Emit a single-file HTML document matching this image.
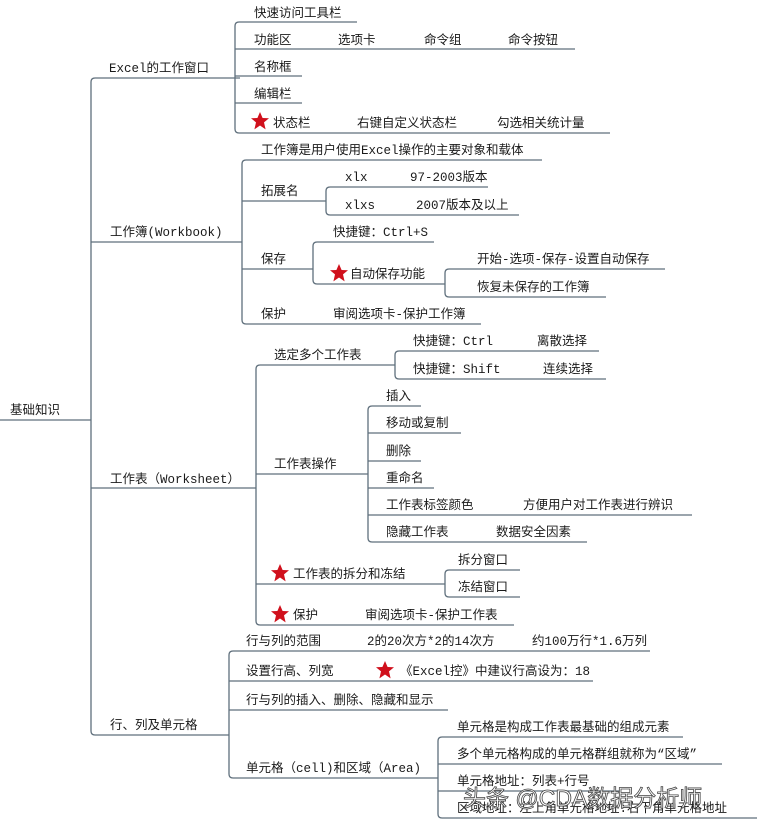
<!DOCTYPE html>
<html><head><meta charset="utf-8"><style>
html,body{margin:0;padding:0;background:#fff;width:762px;height:820px;overflow:hidden}
svg text{font-family:"Liberation Mono","Noto Sans CJK SC",sans-serif;font-size:12.5px;fill:#1a1a1a}
.l{stroke:#5f6f7c;stroke-width:1.3;fill:none}
.s{fill:#d0101c}
</style></head><body>
<svg width="762" height="820" viewBox="0 0 762 820" xmlns="http://www.w3.org/2000/svg">
<defs><polygon id="st" points="0,-9 2.6,-3 9,-2.8 4,1.4 5.6,8.4 0,4.5 -5.6,8.4 -4,1.4 -9,-2.8 -2.6,-3"/></defs>
<g class="l">
<path d="M0 420 H91"/>
<path d="M240 78 H95 Q91 78 91 82 V731 Q91 735 95 735 H229"/>
<path d="M91 242 H242"/><path d="M91 488 H256"/>
<path d="M357 22 H239 Q235 22 235 26 V129 Q235 133 239 133 H610"/>
<path d="M235 49 H575"/><path d="M235 76 H302"/><path d="M235 103 H302"/>
<path d="M542 160 H246 Q242 160 242 164 V320 Q242 324 246 324 H481"/>
<path d="M242 201 H326"/><path d="M242 269 H313"/>
<path d="M488 187 H330 Q326 187 326 191 V211 Q326 215 330 215 H519"/>
<path d="M434 242 H317 Q313 242 313 246 V280 Q313 284 317 284 H445"/>
<path d="M665 269 H449 Q445 269 445 273 V293 Q445 297 449 297 H606"/>
<path d="M395 365 H260 Q256 365 256 369 V621 Q256 625 260 625 H514"/>
<path d="M256 474 H368"/><path d="M256 584 H445"/>
<path d="M599 351 H399 Q395 351 395 355 V375 Q395 379 399 379 H606"/>
<path d="M421 406 H372 Q368 406 368 410 V538 Q368 542 372 542 H587"/>
<path d="M368 433 H461"/><path d="M368 461 H421"/><path d="M368 488 H434"/><path d="M368 515 H692"/>
<path d="M520 570 H449 Q445 570 445 574 V593 Q445 597 449 597 H520"/>
<path d="M650 651 H233 Q229 651 229 655 V774 Q229 778 233 778 H438"/>
<path d="M229 681 H593"/><path d="M229 710 H448"/>
<path d="M683 737 H442 Q438 737 438 741 V814 Q438 818 442 818 H757"/>
<path d="M438 764 H722"/><path d="M438 791 H620"/>
</g>
<g>
<text x="10" y="414">基础知识</text>
<text x="109" y="72">Excel的工作窗口</text>
<text x="254" y="17">快速访问工具栏</text>
<text x="254" y="44">功能区</text><text x="338" y="44">选项卡</text><text x="424" y="44">命令组</text><text x="508" y="44">命令按钮</text>
<text x="254" y="71">名称框</text><text x="254" y="98">编辑栏</text>
<use href="#st" class="s" x="260" y="121"/><text x="273" y="127">状态栏</text><text x="357" y="127">右键自定义状态栏</text><text x="497" y="127">勾选相关统计量</text>
<text x="110" y="236">工作簿(Workbook)</text>
<text x="261" y="154">工作簿是用户使用Excel操作的主要对象和载体</text>
<text x="261" y="195">拓展名</text>
<text x="345" y="181">xlx</text><text x="410" y="181">97-2003版本</text>
<text x="345" y="209">xlxs</text><text x="416" y="209">2007版本及以上</text>
<text x="261" y="263">保存</text>
<text x="333" y="236">快捷键：Ctrl+S</text>
<use href="#st" class="s" x="339" y="273"/><text x="350" y="278">自动保存功能</text>
<text x="477" y="263">开始-选项-保存-设置自动保存</text>
<text x="477" y="291">恢复未保存的工作簿</text>
<text x="261" y="318">保护</text><text x="333" y="318">审阅选项卡-保护工作簿</text>
<text x="110" y="483">工作表（Worksheet）</text>
<text x="274" y="359">选定多个工作表</text>
<text x="413" y="345">快捷键：Ctrl</text><text x="537" y="345">离散选择</text>
<text x="413" y="373">快捷键：Shift</text><text x="543" y="373">连续选择</text>
<text x="274" y="468">工作表操作</text>
<text x="386" y="400">插入</text><text x="386" y="427">移动或复制</text><text x="386" y="455">删除</text><text x="386" y="482">重命名</text>
<text x="386" y="509">工作表标签颜色</text><text x="523" y="509">方便用户对工作表进行辨识</text>
<text x="386" y="536">隐藏工作表</text><text x="496" y="536">数据安全因素</text>
<use href="#st" class="s" x="280" y="573"/><text x="293" y="578">工作表的拆分和冻结</text>
<text x="458" y="564">拆分窗口</text><text x="458" y="591">冻结窗口</text>
<use href="#st" class="s" x="280" y="614"/><text x="293" y="619">保护</text><text x="365" y="619">审阅选项卡-保护工作表</text>
<text x="110" y="729">行、列及单元格</text>
<text x="246" y="645">行与列的范围</text><text x="367" y="645">2的20次方*2的14次方</text><text x="532" y="645">约100万行*1.6万列</text>
<text x="246" y="675">设置行高、列宽</text>
<use href="#st" class="s" x="385" y="670"/><text x="400" y="675">《Excel控》中建议行高设为：18</text>
<text x="246" y="704">行与列的插入、删除、隐藏和显示</text>
<text x="246" y="772">单元格（cell)和区域（Area)</text>
<text x="457" y="731">单元格是构成工作表最基础的组成元素</text>
<text x="457" y="758">多个单元格构成的单元格群组就称为“区域”</text>
<text x="457" y="785">单元格地址：列表+行号</text>
<text x="457" y="812">区域地址：左上角单元格地址:右下角单元格地址</text>
<text x="463" y="806" style="font-family:'Liberation Sans','Noto Sans CJK SC',sans-serif;font-size:23px;fill:#fff;stroke:#444;stroke-width:0.8">头条 @CDA数据分析师</text>
</g>
</svg>
</body></html>
